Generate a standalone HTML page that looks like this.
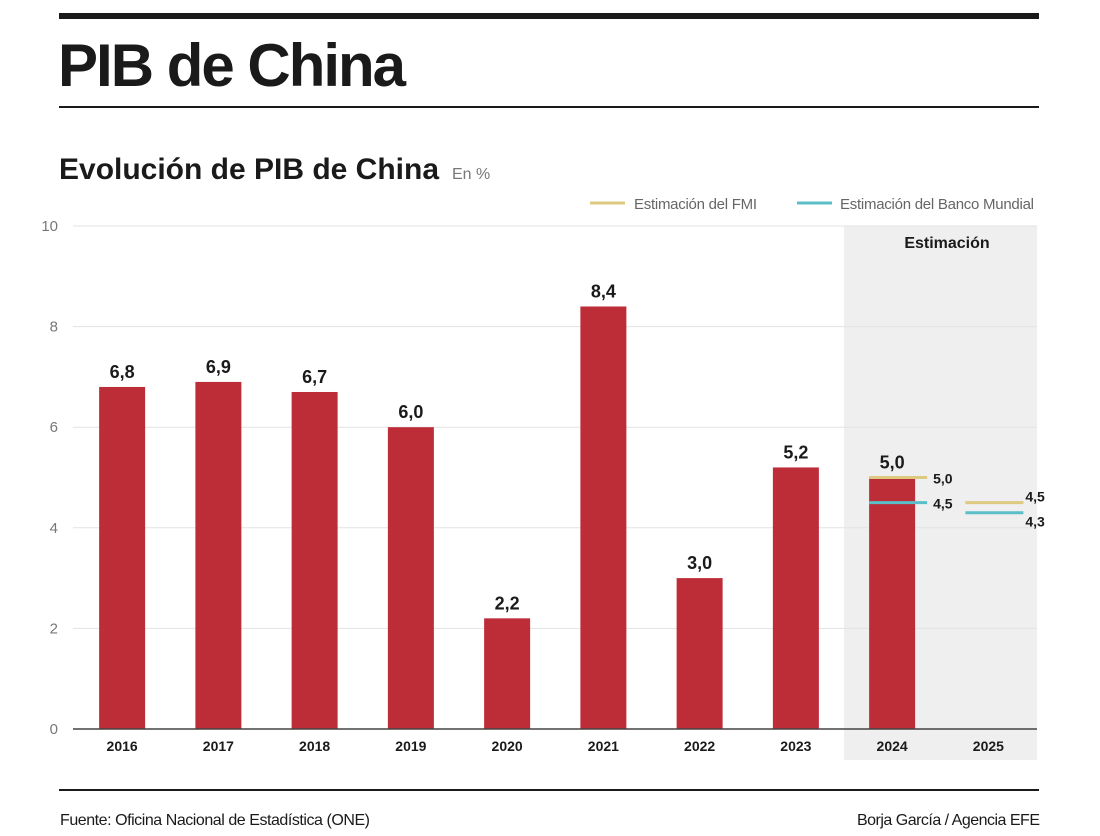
<!DOCTYPE html>
<html><head><meta charset="utf-8"><style>
body{margin:0;background:#fff;font-family:"Liberation Sans",sans-serif;}
#wrap{position:relative;width:1100px;height:836px;overflow:hidden;}
</style></head><body>
<div id="wrap">
<svg id="svg" width="1100" height="836" xmlns="http://www.w3.org/2000/svg" style="position:absolute;left:0;top:0">
<rect x="59" y="13" width="980" height="6" fill="#1a1a1a"/>
<text x="58" y="86" font-size="60" font-weight="bold" fill="#1a1a1a" letter-spacing="-2">PIB de China</text>
<rect x="59" y="106" width="980" height="2" fill="#1a1a1a"/>
<text x="59" y="179" font-size="30" font-weight="bold" fill="#1a1a1a" textLength="380">Evolución de PIB de China</text>
<text x="452" y="179" font-size="16" fill="#777">En %</text>
<g>
<line x1="590" y1="203" x2="625" y2="203" stroke="#ddc97f" stroke-width="3"/>
<text x="634" y="209" font-size="15" fill="#666" textLength="123">Estimación del FMI</text>
<line x1="797" y1="203" x2="832" y2="203" stroke="#5bbfc9" stroke-width="3"/>
<text x="840" y="209" font-size="15" fill="#666" textLength="194">Estimación del Banco Mundial</text>
</g>
<rect x="844" y="226" width="193" height="534" fill="#efefef"/>
<text x="947" y="248" font-size="16" font-weight="bold" text-anchor="middle" fill="#1a1a1a">Estimación</text>
<g id="grid"></g><g id="bars"></g><g id="est"></g>
<rect x="59" y="789" width="980" height="2" fill="#1a1a1a"/>
<text x="60" y="825" font-size="16" fill="#1a1a1a" textLength="310">Fuente: Oficina Nacional de Estadística (ONE)</text>
<text x="857" y="825" font-size="16" fill="#1a1a1a" textLength="183">Borja García / Agencia EFE</text>
</svg>
</div>
<script>
const categories=["2016","2017","2018","2019","2020","2021","2022","2023","2024","2025"];
const gdpValues=[6.8,6.9,6.7,6.0,2.2,8.4,3.0,5.2,5.0,null];
const valueLabels=["6,8","6,9","6,7","6,0","2,2","8,4","3,0","5,2","5,0",""];
const imfCats=["2024","2025"];
const imfValues=[5.0,4.5];
const imfLabels=["5,0","4,5"];
const wbCats=["2024","2025"];
const wbValues=[4.5,4.3];
const wbLabels=["4,5","4,3"];
const yTicks=[0,2,4,6,8,10];

const NS="http://www.w3.org/2000/svg";
const x0=74,bw=96.25,y0=729,yScale=50.3;
const xc=c=>x0+bw*(categories.indexOf(c)+0.5);
const y=v=>y0-v*yScale;
function mk(tag,attrs,parent,txt){const e=document.createElementNS(NS,tag);for(const k in attrs)e.setAttribute(k,attrs[k]);if(txt!=null)e.textContent=txt;parent.appendChild(e);return e;}
const grid=document.getElementById('grid'),bars=document.getElementById('bars'),est=document.getElementById('est');
yTicks.forEach(t=>{
  if(t>0){const l=mk('line',{x1:73,x2:1037,y1:y(t),y2:y(t),stroke:'#e3e3e3','stroke-width':1},grid);
  
  }
  const tx=mk('text',{x:58,y:y(t)+5,'font-size':15,fill:'#777','text-anchor':'end'},grid,String(t));
  
  
});
categories.forEach((c,i)=>{
  const v=gdpValues[i];
  if(v!=null){
    const r=mk('rect',{x:xc(c)-23,y:y(v),width:46,height:v*yScale,fill:'#bd2d37'},bars);
    
    
    const t=mk('text',{x:xc(c),y:y(v)-9,'font-size':18,'font-weight':'bold','text-anchor':'middle',fill:'#1a1a1a'},bars,valueLabels[i]);
    
    
  }
  const xl=mk('text',{x:xc(c),y:751,'font-size':14,'font-weight':'bold','text-anchor':'middle',fill:'#1a1a1a'},bars,c);
  
  
});
const ax=mk('line',{x1:73,x2:1037,y1:y0,y2:y0,stroke:'#444','stroke-width':1.5},bars);


function drawEst(cats,vals,labs,color,name,lastDy){
  cats.forEach((c,i)=>{
    const isLast=c===categories[categories.length-1];
    const l=mk('line',{x1:xc(c)-23,x2:xc(c)+35,y1:y(vals[i]),y2:y(vals[i]),stroke:color,'stroke-width':3},est);
    
    
    const t=mk('text',{x:xc(c)+(isLast?37:41),y:y(vals[i])+6+(isLast?lastDy:0),'font-size':14,'font-weight':'bold',fill:'#1a1a1a'},est,labs[i]);
    
    
  });
}
drawEst(imfCats,imfValues,imfLabels,'#ddc97f','imf',-7);
drawEst(wbCats,wbValues,wbLabels,'#5bbfc9','wb',8);
</script>
</body></html>
